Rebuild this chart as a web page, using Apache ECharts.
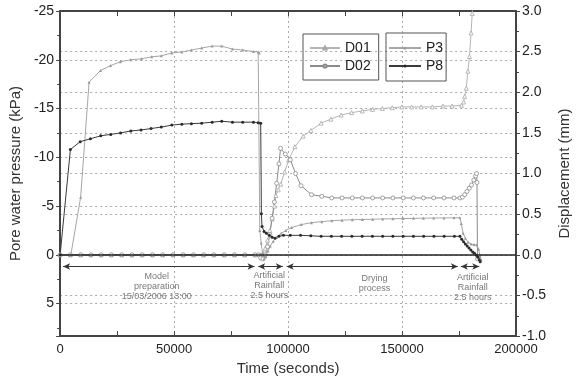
<!DOCTYPE html>
<html>
<head>
<meta charset="utf-8">
<script src="https://cdn.jsdelivr.net/npm/echarts@6/dist/echarts.min.js"></script>
<style>
  html, body { margin: 0; padding: 0; background: #fff; }
  #chart { width: 580px; height: 381px; }
</style>
</head>
<body>
<div id="chart"></div>
<script>
// time (s) vs displacement (mm), right axis
const d01 = [
  [0, 0], [4500, 0], [9000, 0], [13500, 0], [18000, 0], [22500, 0], [27000, 0], [31500, 0],
  [36000, 0], [40500, 0], [45000, 0], [49500, 0], [54000, 0], [58500, 0], [63000, 0],
  [67500, 0], [72000, 0], [76500, 0], [81000, 0], [85500, 0], [88000, 0], [89000, 0.02],
  [90000, 0.08], [91000, 0.18], [92000, 0.3], [93000, 0.44], [94000, 0.6], [94700, 0.73],
  [95700, 0.8], [96800, 0.87], [98500, 1.02], [100300, 1.17], [103000, 1.33], [106600, 1.46],
  [110000, 1.53], [114500, 1.62], [118800, 1.67], [123300, 1.72], [127900, 1.75],
  [132600, 1.77], [137100, 1.79], [141400, 1.8], [145700, 1.81], [149900, 1.82],
  [154200, 1.82], [158400, 1.82], [163300, 1.82], [168000, 1.83], [172000, 1.83],
  [176100, 1.84], [177000, 1.88], [177500, 1.95], [178200, 2.05], [178900, 2.26],
  [179600, 2.44], [180300, 2.73], [180800, 2.97], [181200, 3.1]
];
const d02 = [
  [0, 0], [4500, 0], [9000, 0], [13500, 0], [18000, 0], [22500, 0], [27000, 0], [31500, 0],
  [36000, 0], [40500, 0], [45000, 0], [49500, 0], [54000, 0], [58500, 0], [63000, 0],
  [67500, 0], [72000, 0], [76500, 0], [81000, 0], [85500, 0], [87000, 0], [88000, -0.04],
  [89000, -0.05], [90000, 0], [91000, 0.1], [92000, 0.25], [93000, 0.45], [94000, 0.65],
  [95000, 0.88], [96000, 1.12], [96700, 1.31], [98800, 1.24], [101000, 1.17], [103300, 1.0],
  [105700, 0.85], [110300, 0.74], [114800, 0.72], [119200, 0.7], [123700, 0.7],
  [128200, 0.7], [132600, 0.7], [137100, 0.7], [141500, 0.7], [146000, 0.7], [150500, 0.7],
  [155000, 0.7], [159400, 0.7], [163900, 0.7], [168400, 0.7], [172800, 0.7], [175400, 0.7],
  [176500, 0.71], [177500, 0.74], [178500, 0.78], [179500, 0.82], [180500, 0.86],
  [181500, 0.92], [182300, 0.97], [182700, 1.0], [182900, 0.89], [183100, -0.05]
];
// time (s) vs pore water pressure (kPa), left axis
const p3 = [
  [0, 0], [4700, 0], [9000, -5.9], [12700, -17.7], [17700, -18.9], [22100, -19.4],
  [26400, -19.8], [31000, -20.0], [35700, -20.1], [40200, -20.3], [44400, -20.4],
  [49000, -20.7], [53400, -20.8], [57600, -21.0], [62100, -21.2], [66700, -21.4],
  [70900, -21.4], [75600, -21.1], [80100, -21.0], [84800, -20.85], [86900, -20.8],
  [87400, -20.7], [87600, -2.5], [88200, -1.2], [88800, -0.2], [89500, 0.4], [90300, 0.2],
  [91200, -0.4], [92200, -0.9], [93500, -1.4], [95000, -1.8], [97000, -2.2], [99000, -2.5],
  [101500, -2.8], [105800, -3.1], [110300, -3.3], [114800, -3.4], [119200, -3.5],
  [123700, -3.55], [128200, -3.6], [132600, -3.62], [137100, -3.65], [141500, -3.68],
  [146000, -3.7], [150500, -3.72], [155000, -3.74], [159400, -3.76], [163900, -3.77],
  [168400, -3.78], [172800, -3.8], [175400, -3.8], [176000, -3.2], [176800, -2.2],
  [177800, -1.7], [179000, -1.3], [180300, -1.1], [181600, -1.05], [182800, -1.0],
  [183600, -0.6], [184200, 0.1], [184700, 0.5]
];
const p8 = [
  [0, 0], [4500, -10.8], [8800, -11.6], [13300, -11.9], [17800, -12.2], [22200, -12.35],
  [26500, -12.5], [31000, -12.7], [35500, -12.8], [39900, -12.95], [44400, -13.1],
  [49000, -13.3], [53400, -13.4], [57600, -13.45], [62100, -13.5], [66700, -13.6],
  [70900, -13.7], [75600, -13.6], [80100, -13.6], [84800, -13.6], [86900, -13.55],
  [88000, -13.5], [88300, -4.2], [88600, -2.9], [89500, -2.4], [90500, -2.2], [91800, -2.0],
  [93000, -1.8], [94300, -1.7], [96000, -1.9], [98000, -2.0], [101000, -2.0],
  [105500, -2.0], [110000, -1.95], [114500, -1.9], [119000, -1.9], [123500, -1.9],
  [128000, -1.9], [132500, -1.9], [137000, -1.9], [141500, -1.9], [146000, -1.9],
  [150500, -1.9], [155000, -1.9], [159500, -1.9], [164000, -1.9], [168500, -1.9],
  [173000, -1.9], [175400, -1.9], [176200, -1.6], [177000, -1.35], [177800, -1.1],
  [178600, -0.9], [179400, -0.7], [180200, -0.5], [181000, -0.3], [181800, -0.15],
  [182600, 0.05], [183300, 0.25], [183900, 0.5], [184300, 0.7]
];

// stage arrows [start, end] in seconds, drawn at 1.2 kPa
const stageSpans = [[1300, 85300], [86900, 97700], [99400, 174500], [175800, 183900]];
const stageLabels = [
  ['Model\npreparation\n15/03/2006 13:00', 42400, 3.2],
  ['Artificial\nRainfall\n2.5 hours', 91800, 3.1],
  ['Drying\nprocess', 137900, 2.9],
  ['Artificial\nRainfall\n2.5 hours', 181000, 3.4]
];

const font = 'Liberation Sans, Arial, sans-serif';
const axisColor = '#444';
const gridLine = { show: true, lineStyle: { color: '#aaa', type: [2, 3], width: 1 } };

const chart = echarts.init(document.getElementById('chart'));

chart.setOption({
  animation: false,
  textStyle: { fontFamily: font },
  grid: { left: 57, right: 52, top: 11, bottom: 43 },
  legend: [
    {
      data: ['D01', 'D02'],
      orient: 'vertical', left: 303, top: 34,
      padding: [7, 8, 7, 6], itemGap: 4, itemWidth: 30, itemHeight: 4,
      borderColor: '#555', borderWidth: 1,
      textStyle: { fontSize: 14, color: '#222', fontFamily: font }
    },
    {
      data: ['P3', 'P8'],
      orient: 'vertical', left: 386, top: 33,
      padding: [8, 3, 8, 2], itemGap: 4, itemWidth: 32, itemHeight: 4,
      borderColor: '#555', borderWidth: 1,
      textStyle: { fontSize: 14, color: '#222', fontFamily: font }
    }
  ],
  xAxis: [
    {
      type: 'value', min: 0, max: 200000, interval: 50000,
      name: 'Time (seconds)', nameLocation: 'middle', nameGap: 24,
      nameTextStyle: { fontSize: 15, color: '#333' },
      axisLine: { show: true, onZero: false, lineStyle: { color: axisColor, width: 2 } },
      axisTick: { show: true, inside: true, length: 5, lineStyle: { color: axisColor } },
      minorTick: { show: true, splitNumber: 2, length: 5, lineStyle: { color: axisColor } },
      axisLabel: { fontSize: 13, color: '#222', margin: 7, formatter: v => String(v) },
      splitLine: gridLine
    },
    {
      type: 'value', min: 0, max: 200000, interval: 50000, position: 'top',
      axisLine: { show: true, onZero: false, lineStyle: { color: axisColor, width: 2 } },
      axisTick: { show: true, inside: true, length: 5, lineStyle: { color: axisColor } },
      minorTick: { show: true, splitNumber: 2, length: 5, lineStyle: { color: axisColor } },
      axisLabel: { show: false },
      splitLine: { show: false }
    }
  ],
  yAxis: [
    {
      type: 'value', min: -25, max: 25 / 3, interval: 5, inverse: true, position: 'left',
      name: 'Pore water pressure (kPa)', nameLocation: 'middle', nameGap: 36,
      nameTextStyle: { fontSize: 15, color: '#333' },
      axisLine: { show: true, onZero: false, lineStyle: { color: axisColor, width: 2 } },
      axisTick: { show: true, length: 4, lineStyle: { color: axisColor } },
      minorTick: { show: true, splitNumber: 2, length: 3, lineStyle: { color: axisColor } },
      axisLabel: {
        fontSize: 14, color: '#222', margin: 6,
        formatter: v => (Math.abs(v / 5 - Math.round(v / 5)) < 1e-6 ? String(Math.round(v)) : '')
      },
      splitLine: gridLine
    },
    {
      type: 'value', min: -1, max: 3, interval: 0.5, position: 'right',
      name: 'Displacement (mm)', nameLocation: 'middle', nameGap: 38,
      nameRotate: 90,
      nameTextStyle: { fontSize: 15, color: '#333' },
      axisLine: { show: true, onZero: false, lineStyle: { color: axisColor, width: 2 } },
      axisTick: { show: true, length: 4, lineStyle: { color: axisColor } },
      minorTick: { show: true, splitNumber: 2, length: 3, lineStyle: { color: axisColor } },
      axisLabel: { fontSize: 14, color: '#222', margin: 6, formatter: v => v.toFixed(1) },
      splitLine: gridLine
    }
  ],
  series: [
    {
      name: 'D01', type: 'line', xAxisIndex: 0, yAxisIndex: 1, data: d01,
      symbol: 'triangle', symbolSize: 4,
      lineStyle: { color: '#b4b4b4', width: 1 },
      itemStyle: { color: '#ffffff', borderColor: '#a8a8a8', borderWidth: 0.8 }
    },
    {
      name: 'D02', type: 'line', xAxisIndex: 0, yAxisIndex: 1, data: d02,
      symbol: 'circle', symbolSize: 4,
      lineStyle: { color: '#8a8a8a', width: 1 },
      itemStyle: { color: '#ffffff', borderColor: '#8a8a8a', borderWidth: 0.8 }
    },
    {
      name: 'P3', type: 'line', xAxisIndex: 0, yAxisIndex: 0, data: p3,
      symbol: 'triangle', symbolSize: 3,
      lineStyle: { color: '#a6a6a6', width: 1 },
      itemStyle: { color: '#9a9a9a' }
    },
    {
      name: 'P8', type: 'line', xAxisIndex: 0, yAxisIndex: 0, data: p8,
      symbol: 'circle', symbolSize: 3,
      lineStyle: { color: '#3a3a3a', width: 1 },
      itemStyle: { color: '#2a2a2a' },
      markLine: {
        silent: true, symbol: 'none', animation: false,
        label: { show: false },
        lineStyle: { color: '#222', width: 1.5, type: 'solid' },
        data: [{ yAxis: 0 }]
      }
    },
    {
      name: 'stages', type: 'line', xAxisIndex: 0, yAxisIndex: 0, data: [],
      markLine: {
        silent: true, animation: false,
        symbol: ['arrow', 'arrow'], symbolSize: [5, 7],
        label: { show: false },
        lineStyle: { color: '#333', width: 1, type: 'solid' },
        data: stageSpans.map(s => [{ coord: [s[0], 1.2] }, { coord: [s[1], 1.2] }])
      }
    },
    {
      name: 'notes', type: 'scatter', xAxisIndex: 0, yAxisIndex: 0,
      symbolSize: 0, silent: true,
      data: stageLabels.map(l => ({ name: l[0], value: [l[1], l[2]] })),
      label: {
        show: true, position: 'inside', formatter: p => p.name,
        fontSize: 9, lineHeight: 10, color: '#555', align: 'center', verticalAlign: 'middle'
      }
    }
  ]
});
</script>
</body>
</html>
